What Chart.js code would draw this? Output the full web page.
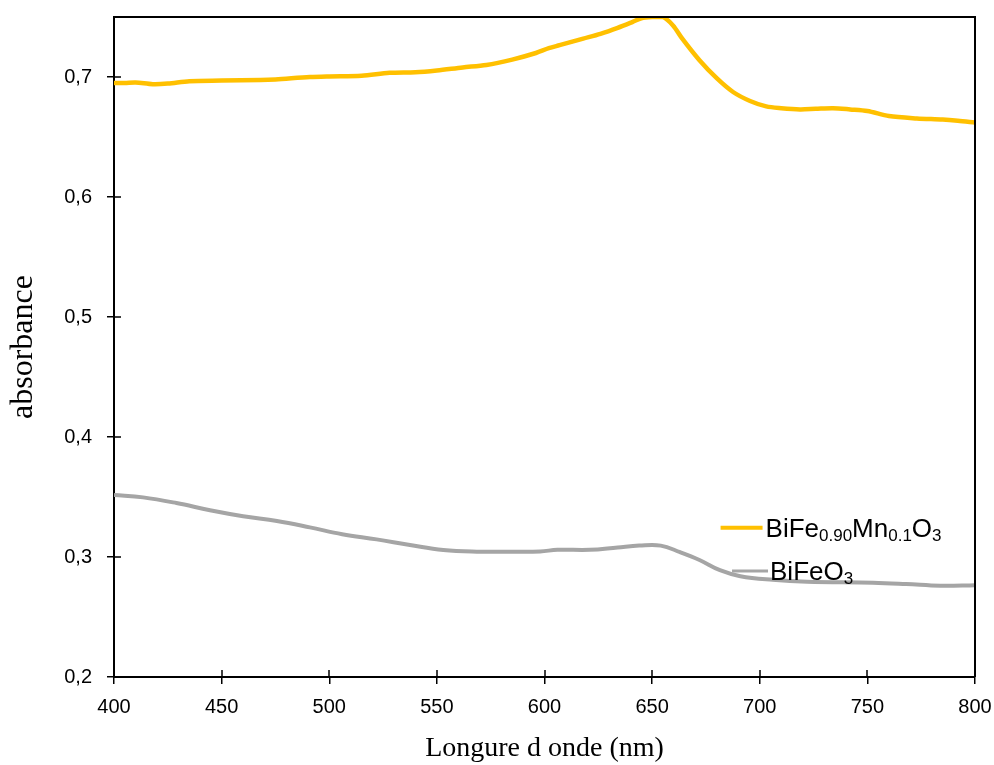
<!DOCTYPE html>
<html>
<head>
<meta charset="utf-8">
<script src="https://cdn.jsdelivr.net/npm/chart.js@4.4.1/dist/chart.umd.min.js"></script>
<style>
  html, body { margin: 0; padding: 0; background: #fff; }
  canvas { display: block; }
</style>
</head>
<body>
<canvas id="absChart" width="994" height="765"></canvas>
<script>
// wavelengths (nm) and absorbance
const mnWavelengths = [400, 405, 410, 418, 425, 435, 450, 468, 475, 491, 500, 515, 528, 540, 550, 562, 573, 585, 596, 602, 607, 618, 626, 634, 641, 645, 650, 655, 659.7, 664, 672, 680, 687.6, 695.5, 703, 710, 718.7, 726, 734, 742, 750, 760, 773, 785, 792, 800];
const mnAbsorbance = [0.695, 0.695, 0.6955, 0.694, 0.6945, 0.6965, 0.697, 0.6975, 0.698, 0.700, 0.7005, 0.701, 0.7035, 0.704, 0.7055, 0.708, 0.710, 0.7145, 0.720, 0.724, 0.7265, 0.732, 0.736, 0.741, 0.746, 0.749, 0.750, 0.750, 0.743, 0.732, 0.714, 0.699, 0.6875, 0.680, 0.6755, 0.674, 0.673, 0.6735, 0.674, 0.673, 0.6717, 0.6675, 0.6655, 0.6645, 0.6635, 0.662];

const bfoWavelengths = [400, 413.5, 429, 444.6, 460, 475.7, 491, 506, 522, 537.5, 553, 568.6, 584, 598, 606, 621, 634, 644, 654, 663, 672, 681.5, 691, 706, 722, 752.6, 768, 784, 800];
const bfoAbsorbance = [0.3517, 0.3497, 0.345, 0.339, 0.334, 0.330, 0.3247, 0.319, 0.3147, 0.310, 0.3058, 0.3044, 0.3044, 0.3046, 0.306, 0.306, 0.308, 0.3095, 0.3095, 0.304, 0.2975, 0.289, 0.284, 0.281, 0.2794, 0.2786, 0.2775, 0.276, 0.2765];

const xTicks = [400, 450, 500, 550, 600, 650, 700, 750, 800];
const yTicks = [0.2, 0.3, 0.4, 0.5, 0.6, 0.7];

const yellow = '#FFC000';
const grey = '#A5A5A5';

function toPoints(xs, ys) {
    return xs.map((x, i) => ({ x: x, y: ys[i] }));
}

// box on top/right + inward half of the tick marks
const frame = {
    id: 'frame',
    afterDraw(chart) {
        const ctx = chart.ctx;
        const a = chart.chartArea;
        const xs = chart.scales.x, ys = chart.scales.y;
        ctx.save();
        ctx.strokeStyle = '#000';
        ctx.lineWidth = 2;
        ctx.beginPath();
        ctx.moveTo(a.left, a.top);
        ctx.lineTo(a.right, a.top);
        ctx.lineTo(a.right, a.bottom);
        ctx.stroke();
        ctx.lineWidth = 1.5;
        ctx.beginPath();
        xTicks.forEach(v => {
            const p = Math.round(xs.getPixelForValue(v));
            ctx.moveTo(p, a.bottom);
            ctx.lineTo(p, a.bottom - 7);
        });
        yTicks.forEach(v => {
            const p = Math.round(ys.getPixelForValue(v));
            ctx.moveTo(a.left, p);
            ctx.lineTo(a.left + 7, p);
        });
        ctx.stroke();
        ctx.restore();
    }
};

// legend written inside the plot, with subscripts
function drawRich(ctx, parts, x, y) {
    parts.forEach(p => {
        const size = p[1] ? 17 : 26;
        ctx.font = size + 'px "Liberation Sans", Arial, sans-serif';
        ctx.fillText(p[0], x, p[1] ? y + 4 : y);
        x += ctx.measureText(p[0]).width;
    });
}

const inlineLegend = {
    id: 'inlineLegend',
    afterDraw(chart) {
        const ctx = chart.ctx;
        const a = chart.chartArea;
        const w = a.right - a.left, h = a.bottom - a.top;
        ctx.save();
        ctx.lineWidth = 4;
        ctx.lineCap = 'butt';
        // BiFe0.90Mn0.1O3
        let x0 = a.left + 0.7045 * w, y0 = a.top + 0.774 * h;
        ctx.strokeStyle = yellow;
        ctx.beginPath();
        ctx.moveTo(x0, y0);
        ctx.lineTo(x0 + 42, y0);
        ctx.stroke();
        ctx.fillStyle = '#000';
        ctx.textBaseline = 'alphabetic';
        drawRich(ctx, [['BiFe', 0], ['0.90', 1], ['Mn', 0], ['0.1', 1], ['O', 0], ['3', 1]], x0 + 45, y0 + 9);
        // BiFeO3
        x0 = a.left + 0.7178 * w; y0 = a.top + 0.8395 * h;
        ctx.strokeStyle = grey;
        ctx.lineWidth = 3;
        ctx.beginPath();
        ctx.moveTo(x0, y0);
        ctx.lineTo(x0 + 36, y0);
        ctx.stroke();
        drawRich(ctx, [['BiFeO', 0], ['3', 1]], x0 + 38, y0 + 9);
        ctx.restore();
    }
};

const tickFont = { family: '"Liberation Sans", Arial, sans-serif', size: 20 };

new Chart(document.getElementById('absChart').getContext('2d'), {
    type: 'line',
    data: {
        datasets: [{
            label: 'BiFe0.90Mn0.1O3',
            data: toPoints(mnWavelengths, mnAbsorbance),
            borderColor: yellow,
            borderWidth: 4.5,
            pointRadius: 0,
            tension: 0.3,
            fill: false
        }, {
            label: 'BiFeO3',
            data: toPoints(bfoWavelengths, bfoAbsorbance),
            borderColor: grey,
            borderWidth: 4,
            pointRadius: 0,
            tension: 0.4,
            fill: false
        }]
    },
    options: {
        responsive: false,
        animation: false,
        layout: { padding: { left: 0, right: 19, top: 17, bottom: 0 } },
        plugins: {
            legend: { display: false },
            tooltip: { enabled: false }
        },
        scales: {
            x: {
                type: 'linear',
                min: 400,
                max: 800,
                afterBuildTicks: s => { s.ticks = xTicks.map(v => ({ value: v })); },
                afterFit: s => { s.height = 88; s.paddingLeft = 0; s.paddingRight = 0; },
                border: { color: '#000', width: 2 },
                grid: { drawOnChartArea: false, drawTicks: true, tickLength: 7, color: '#000', lineWidth: 1.5 },
                ticks: { color: '#000', font: tickFont, padding: 11, maxRotation: 0 },
                title: {
                    display: true,
                    text: 'Longure d onde (nm)',
                    color: '#000',
                    font: { family: '"Liberation Serif", "Times New Roman", serif', size: 28 },
                    padding: { top: 0, bottom: 0 }
                }
            },
            y: {
                min: 0.2,
                max: 0.75,
                afterBuildTicks: s => { s.ticks = yTicks.map(v => ({ value: v })); },
                afterFit: s => { s.width = 114; s.paddingTop = 0; s.paddingBottom = 0; },
                border: { color: '#000', width: 2 },
                grid: { drawOnChartArea: false, drawTicks: true, tickLength: 7, color: '#000', lineWidth: 1.5 },
                ticks: {
                    color: '#000',
                    font: tickFont,
                    padding: 15,
                    callback: v => v.toFixed(1).replace('.', ',')
                },
                title: {
                    display: true,
                    text: 'absorbance',
                    color: '#000',
                    font: { family: '"Liberation Serif", "Times New Roman", serif', size: 32 },
                    padding: { top: 4, bottom: 0 }
                }
            }
        }
    },
    plugins: [frame, inlineLegend]
});
</script>
</body>
</html>
